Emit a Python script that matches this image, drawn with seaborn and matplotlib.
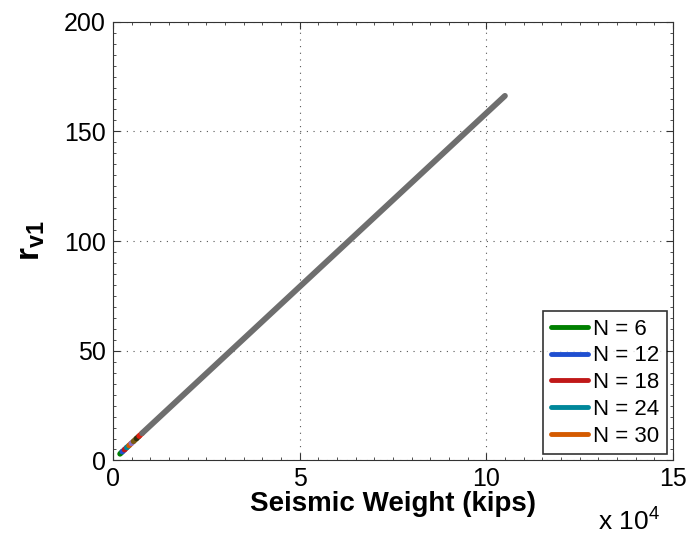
import numpy as np
import pandas as pd
import matplotlib.pyplot as plt
import seaborn as sns
from matplotlib.ticker import AutoMinorLocator

# legend series: seismic weight (kips) vs r_v1
labels = ["N = 6", "N = 12", "N = 18", "N = 24", "N = 30"]
w_n6 = [1900, 2500]
r_n6 = [3.0, 4.0]
w_n12 = [2500, 3100]
r_n12 = [4.0, 4.9]
w_n18 = [3100, 3700]
r_n18 = [4.9, 5.9]
w_n24 = [3700, 4300]
r_n24 = [5.9, 6.8]
w_n30 = [4300, 4900]
r_n30 = [6.8, 7.8]

# extra unlabeled series
w_extra = [[4900, 5500], [5500, 6300], [6300, 7000], [7000, 7800]]
r_extra = [[7.8, 8.7], [8.7, 10.0], [10.0, 11.1], [11.1, 12.4]]
extra_colors = ["#8a6fc0", "#7a5a10", "#303010", "#e02010"]

w_gray = [7800, 105000]
r_gray = [12.4, 166.2]

colors = ["#008000", "#1f4fd0", "#c01818", "#00879a", "#d45a00"]

sns.set_style("white")
plt.rcParams["font.family"] = ["Liberation Sans", "DejaVu Sans"]
plt.rcParams["text.color"] = "black"
plt.rcParams["axes.labelcolor"] = "black"
plt.rcParams["xtick.color"] = "black"
plt.rcParams["ytick.color"] = "black"
plt.rcParams["mathtext.fontset"] = "custom"
plt.rcParams["mathtext.rm"] = "Liberation Sans"
plt.rcParams["mathtext.bf"] = "Liberation Sans:bold"

fig, ax = plt.subplots(figsize=(6.93, 5.43), dpi=100)
fig.subplots_adjust(left=0.163, right=0.971, top=0.96, bottom=0.152)

rows = []
for lab, w, r in zip(labels, [w_n6, w_n12, w_n18, w_n24, w_n30],
                     [r_n6, r_n12, r_n18, r_n24, r_n30]):
    for a, b in zip(w, r):
        rows.append({"W": a, "r": b, "N": lab})
df = pd.DataFrame(rows)

sns.lineplot(data=df, x="W", y="r", hue="N", palette=colors, linewidth=4,
             ax=ax, sort=False, estimator=None)
for w, r, c in zip(w_extra, r_extra, extra_colors):
    sns.lineplot(x=w, y=r, color=c, linewidth=4, ax=ax, legend=False)
sns.lineplot(x=w_gray, y=r_gray, color="#6e6e6e", linewidth=4.2, ax=ax, legend=False)

ax.set_xlim(0, 150000)
ax.set_ylim(0, 200)
ax.set_xticks([0, 50000, 100000, 150000])
ax.set_xticklabels(["0", "5", "10", "15"])
ax.set_yticks([0, 50, 100, 150, 200])
ax.xaxis.set_minor_locator(AutoMinorLocator(10))
ax.yaxis.set_minor_locator(AutoMinorLocator(10))
ax.tick_params(which="both", direction="in", bottom=True, left=True, top=True, right=True,
               labelsize=18, pad=5, color="#333333")
ax.tick_params(which="major", length=5, width=0.8)
ax.tick_params(which="minor", length=2.5, width=0.6)
ax.grid(True, which="major", linestyle=(0, (1, 5)), color="#555555", linewidth=0.8)
for s in ax.spines.values():
    s.set_linewidth(0.8)
    s.set_color("#333333")

ax.set_xlabel("Seismic Weight (kips)", fontsize=20, fontweight="bold", labelpad=0)
ax.set_ylabel(r"$\mathbf{r_{v1}}$", fontsize=24, labelpad=12)
fig.text(0.863, 0.025, r"x 10$^{4}$", fontsize=19)

leg = ax.legend(loc="lower right", fontsize=16, frameon=True, fancybox=False,
                edgecolor="black", handlelength=1.7, handletextpad=0.2,
                borderaxespad=0.27, labelspacing=0.26, borderpad=0.35)
leg.get_frame().set_linewidth(1.2)
for line in leg.get_lines():
    line.set_linewidth(3.5)

fig.savefig("out.png", dpi=100)
